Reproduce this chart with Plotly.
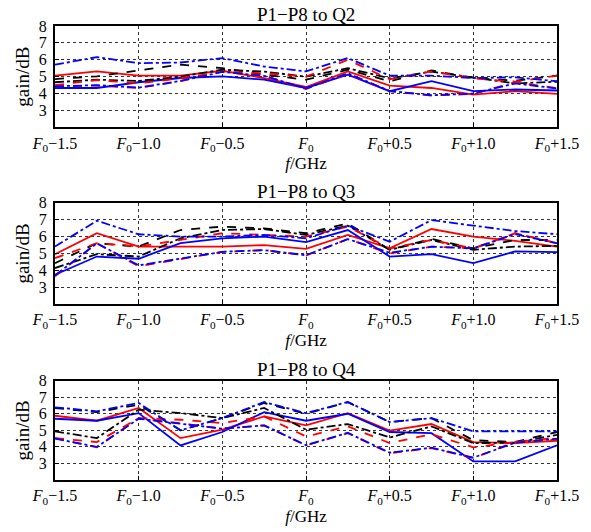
import plotly.graph_objects as go

# Frequency offsets from F0 (GHz), sampled every 0.25 GHz
freq = [-1.5, -1.25, -1.0, -0.75, -0.5, -0.25, 0.0, 0.25, 0.5, 0.75, 1.0, 1.25, 1.5]
tick_vals = [-1.5, -1.0, -0.5, 0.0, 0.5, 1.0, 1.5]
tick_text = ["<i>F</i><sub>0</sub>−1.5", "<i>F</i><sub>0</sub>−1.0", "<i>F</i><sub>0</sub>−0.5",
             "<i>F</i><sub>0</sub>", "<i>F</i><sub>0</sub>+0.5", "<i>F</i><sub>0</sub>+1.0",
             "<i>F</i><sub>0</sub>+1.5"]
panel_titles = ["P1−P8 to Q2", "P1−P8 to Q3", "P1−P8 to Q4"]

# Gain (dB) from input ports P1..P8 to output Q2
q2_p1 = [5.06, 5.31, 5.06, 5.06, 5.35, 4.92, 4.39, 5.31, 4.47, 4.33, 3.94, 4.14, 3.98]
q2_p2 = [4.33, 4.33, 4.67, 4.92, 5.02, 4.82, 4.33, 5.12, 4.14, 4.73, 4.14, 4.24, 4.18]
q2_p3 = [4.86, 5.02, 5.37, 5.71, 5.50, 5.12, 4.82, 5.41, 4.73, 5.37, 4.92, 4.76, 5.06]
q2_p4 = [4.67, 4.82, 4.75, 5.00, 5.41, 5.30, 5.00, 5.50, 4.90, 5.30, 4.95, 4.60, 4.70]
q2_p5 = [4.50, 4.80, 4.60, 4.90, 5.30, 5.20, 5.00, 6.00, 4.85, 5.31, 4.90, 4.70, 5.06]
q2_p6 = [5.71, 6.16, 5.80, 5.84, 6.10, 5.60, 5.31, 6.10, 5.06, 5.06, 4.92, 4.96, 4.73]
q2_p7 = [4.43, 4.47, 4.33, 4.73, 5.31, 5.06, 4.27, 5.18, 4.14, 3.88, 3.98, 4.67, 4.33]
q2_p8 = [4.43, 4.50, 4.35, 4.75, 5.28, 5.05, 4.30, 5.20, 4.15, 3.90, 4.00, 4.60, 4.30]

# Gain (dB) from input ports P1..P8 to output Q3
q3_p1 = [4.96, 6.20, 5.41, 5.41, 5.41, 5.50, 5.27, 6.10, 5.31, 6.45, 6.00, 5.75, 5.41]
q3_p2 = [3.75, 4.82, 4.69, 5.61, 5.90, 6.00, 5.67, 6.39, 4.82, 4.96, 4.43, 5.12, 5.08]
q3_p3 = [4.43, 5.61, 5.41, 6.39, 6.59, 6.49, 6.20, 6.78, 5.22, 5.86, 5.31, 5.80, 5.80]
q3_p4 = [4.14, 4.96, 4.82, 5.90, 6.39, 6.45, 6.10, 6.65, 5.22, 5.80, 5.22, 5.41, 5.45]
q3_p5 = [4.73, 5.61, 5.41, 5.80, 6.20, 6.10, 6.00, 6.59, 5.30, 5.80, 5.30, 6.20, 5.61]
q3_p6 = [5.41, 6.94, 6.14, 6.00, 6.00, 6.10, 5.90, 6.65, 5.70, 6.98, 6.65, 6.33, 6.14]
q3_p7 = [3.65, 5.61, 4.24, 4.69, 5.10, 5.20, 4.88, 5.86, 5.00, 5.41, 5.31, 6.20, 5.61]
q3_p8 = [3.70, 5.60, 4.30, 4.70, 5.10, 5.20, 4.90, 5.85, 5.05, 5.40, 5.30, 6.15, 5.60]

# Gain (dB) from input ports P1..P8 to output Q4
q4_p1 = [5.88, 5.58, 6.35, 4.53, 5.04, 5.84, 5.30, 6.04, 4.98, 5.38, 4.29, 4.23, 4.37]
q4_p2 = [5.70, 5.58, 6.04, 4.09, 4.90, 6.10, 5.58, 6.00, 4.90, 4.83, 3.12, 3.12, 4.09]
q4_p3 = [6.35, 6.10, 6.55, 5.00, 5.74, 6.65, 6.00, 6.70, 5.50, 5.74, 4.40, 4.30, 4.90]
q4_p4 = [4.94, 4.53, 6.25, 6.04, 5.74, 6.35, 5.04, 5.38, 4.57, 5.24, 4.23, 4.25, 4.73]
q4_p5 = [4.53, 4.29, 5.74, 5.64, 5.44, 5.84, 4.63, 5.24, 4.23, 4.77, 3.97, 4.30, 4.55]
q4_p6 = [6.39, 6.15, 6.65, 5.00, 5.74, 6.71, 6.04, 6.71, 5.50, 5.74, 4.94, 4.94, 4.94]
q4_p7 = [4.53, 3.97, 5.74, 5.44, 5.10, 5.30, 4.09, 4.83, 3.62, 3.93, 3.32, 4.30, 4.45]
q4_p8 = [4.50, 4.00, 5.70, 5.40, 5.10, 5.30, 4.10, 4.85, 3.65, 3.95, 3.35, 4.25, 4.50]

panels = [
    [q2_p1, q2_p2, q2_p3, q2_p4, q2_p5, q2_p6, q2_p7, q2_p8],
    [q3_p1, q3_p2, q3_p3, q3_p4, q3_p5, q3_p6, q3_p7, q3_p8],
    [q4_p1, q4_p2, q4_p3, q4_p4, q4_p5, q4_p6, q4_p7, q4_p8],
]

# Line style per input port
port_colors = ["#ff0000", "#0000ff", "#000000", "#000000", "#ff0000", "#0000ff", "#ff0000", "#0000ff"]
port_dashes = ["solid", "solid", "dash", "dashdot", "dash", "dashdot", "dash", "dashdot"]

FONT = "Liberation Serif, Times New Roman, serif"

# Plot-area placement in paper coordinates
y_domains = [[0.7768, 1.0], [0.3873, 0.6105], [0.0, 0.2188]]

fig = go.Figure()
for k, series in enumerate(panels):
    xa = "x" if k == 0 else f"x{k + 1}"
    ya = "y" if k == 0 else f"y{k + 1}"
    for j, vals in enumerate(series):
        fig.add_trace(go.Scatter(
            x=freq, y=vals, mode="lines", xaxis=xa, yaxis=ya, showlegend=False,
            line=dict(color=port_colors[j], dash=port_dashes[j], width=1.8),
        ))

    axis_common = dict(
        showline=True, linecolor="black", linewidth=2, mirror=True,
        ticks="inside", ticklen=4, tickcolor="black",
        showgrid=True, gridcolor="#333333", griddash="dot", gridwidth=1,
        zeroline=False,
    )
    xkey = "xaxis" if k == 0 else f"xaxis{k + 1}"
    ykey = "yaxis" if k == 0 else f"yaxis{k + 1}"
    fig.update_layout({
        xkey: dict(axis_common, domain=[0, 1], anchor=ya, range=[-1.5, 1.5],
                   tickvals=tick_vals, ticktext=tick_text,
                   tickfont=dict(family=FONT, size=16, color="black"),
                   title=dict(text="<i>f</i>/GHz", standoff=2,
                              font=dict(family=FONT, size=17, color="black"))),
        ykey: dict(axis_common, domain=y_domains[k], anchor=xa, range=[2, 8],
                   tickvals=[3, 4, 5, 6, 7, 8], ticklabelstandoff=3,
                   tickfont=dict(family=FONT, size=16, color="black"),
                   title=dict(text="gain/dB", standoff=4,
                              font=dict(family=FONT, size=19, color="black"))),
    })
    fig.add_annotation(
        text=panel_titles[k], xref="paper", yref="paper",
        x=0.5, y=y_domains[k][1], xanchor="center", yanchor="bottom", yshift=-1,
        showarrow=False, font=dict(family=FONT, size=19, color="black"),
    )

fig.update_layout(
    width=591, height=532,
    margin=dict(l=55, r=34, t=26, b=49),
    paper_bgcolor="white", plot_bgcolor="white",
    font=dict(family=FONT, color="black"),
)

fig.write_html("out.html")
